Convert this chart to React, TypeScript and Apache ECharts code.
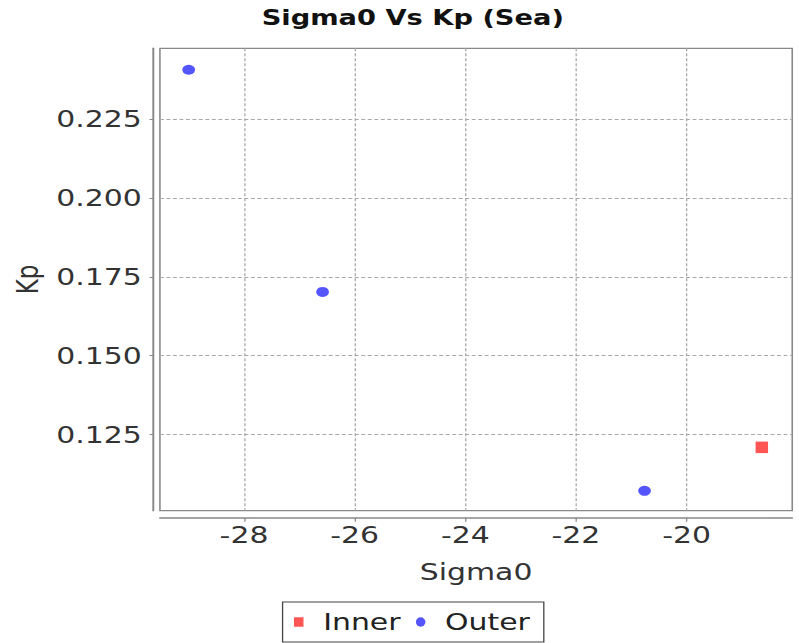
import React, { useEffect, useRef } from 'react';
import * as echarts from 'echarts';

// Data
const xTicks = [-28, -26, -24, -22, -20];
const yTicks = [0.125, 0.15, 0.175, 0.2, 0.225];
const innerX = [-18.64];
const innerY = [0.1209];
const outerX = [-29.0, -26.58, -20.76];
const outerY = [0.2407, 0.1702, 0.1071];
const seriesNames = ['Inner', 'Outer'];

const CHART_W = 615;
const CHART_H = 643;
const SCALE_X = 799 / CHART_W;
const FONT = 'DejaVu Sans';

export default function App() {
  const ref = useRef<HTMLDivElement>(null);

  useEffect(() => {
    if (!ref.current) return;
    const chart = echarts.init(ref.current, undefined, { renderer: 'svg', width: CHART_W, height: CHART_H });
    const inner = innerX.map((x, i) => [x, innerY[i]]);
    const outer = outerX.map((x, i) => [x, outerY[i]]);
    chart.setOption({
      animation: false,
      backgroundColor: '#ffffff',
      title: {
        text: 'Sigma0 Vs Kp (Sea)',
        left: 317.7,
        top: 7,
        padding: 0,
        textAlign: 'center',
        textStyle: { fontFamily: FONT, fontSize: 21, fontWeight: 'bold', color: '#111111' },
      },
      legend: {
        data: [
          { name: seriesNames[0], icon: 'path://M0,0H7.3V9.5H0Z' },
          { name: seriesNames[1], icon: 'path://M3.1,0A3.1,4,0,1,1,3.1,8A3.1,4,0,1,1,3.1,0Z' },
        ],
        left: 217.5,
        top: 602,
        orient: 'horizontal',
        padding: [8.5, 10.7, 8.5, 8.8],
        itemWidth: 27.6,
        itemHeight: 9.5,
        itemGap: 11.8,
        borderColor: '#444444',
        borderWidth: 1,
        selectedMode: false,
        textStyle: { fontFamily: FONT, fontSize: 23, color: '#222222' },
      },
      grid: {
        left: 123.1,
        right: 5.2,
        top: 48.3,
        bottom: 132.3,
        show: true,
        backgroundColor: '#ffffff',
        borderColor: '#888888',
        borderWidth: 1.2,
      },
      xAxis: {
        type: 'value',
        min: -29.52,
        max: -18.09,
        offset: 7,
        name: 'Sigma0',
        nameLocation: 'middle',
        nameGap: 43,
        nameTextStyle: { fontFamily: FONT, fontSize: 23, color: '#333333' },
        axisLine: { show: true, lineStyle: { color: '#888888', width: 1.5 } },
        axisTick: { show: true, length: 4, customValues: xTicks, lineStyle: { color: '#888888' } },
        axisLabel: {
          customValues: xTicks,
          margin: 6,
          fontFamily: FONT,
          fontSize: 23,
          color: '#333333',
          formatter: (v: number) => String(v),
        },
        splitLine: { show: true, lineStyle: { color: '#a8a8a8', type: [3, 2], width: 1 } },
      },
      yAxis: {
        type: 'value',
        min: 0.1008,
        max: 0.2475,
        offset: 5,
        name: 'Kp',
        nameLocation: 'middle',
        nameGap: 83.5,
        nameTextStyle: { fontFamily: FONT, fontSize: 23, color: '#333333' },
        axisLine: { show: true, lineStyle: { color: '#888888', width: 1.5 } },
        axisTick: { show: true, length: 3, customValues: yTicks, lineStyle: { color: '#888888' } },
        axisLabel: {
          customValues: yTicks,
          margin: 9,
          fontFamily: FONT,
          fontSize: 23,
          color: '#333333',
          formatter: (v: number) => v.toFixed(3),
        },
        splitLine: { show: true, lineStyle: { color: '#a8a8a8', type: [3, 2], width: 1 } },
      },
      series: [
        {
          name: seriesNames[0],
          type: 'scatter',
          symbol: 'rect',
          symbolSize: [9.6, 11.5],
          itemStyle: { color: '#ff5555', opacity: 1 },
          data: inner,
        },
        {
          name: seriesNames[1],
          type: 'scatter',
          symbol: 'circle',
          symbolSize: [9.8, 10],
          itemStyle: { color: '#5555ff', opacity: 1 },
          data: outer,
        },
      ],
    });
    return () => chart.dispose();
  }, []);

  return (
    <div style={{ position: 'absolute', left: 0, top: 0, width: 799, height: 643, overflow: 'hidden', background: '#fff' }}>
      <div
        ref={ref}
        style={{ width: CHART_W, height: CHART_H, transform: `scaleX(${SCALE_X})`, transformOrigin: '0 0' }}
      />
    </div>
  );
}
